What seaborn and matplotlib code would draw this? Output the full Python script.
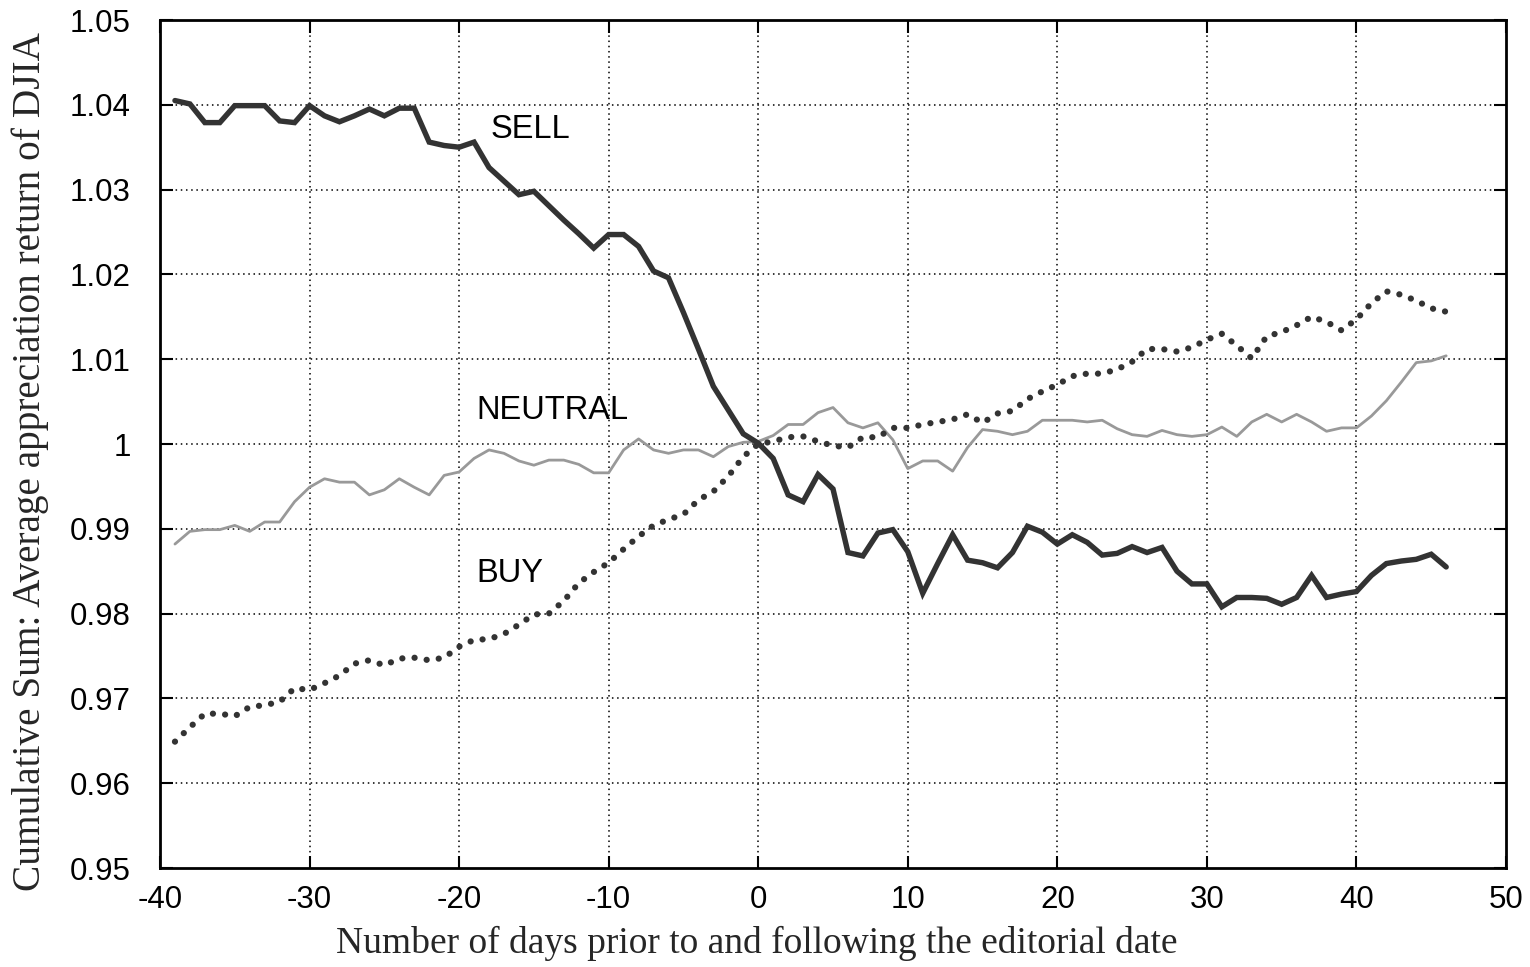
import numpy as np
import pandas as pd
import matplotlib
matplotlib.use("Agg")
import matplotlib.pyplot as plt
import seaborn as sns

# Event window: trading days relative to the editorial date
days = list(range(-39, 47))

sell = [
    1.0405, 1.0401, 1.0379, 1.0379, 1.0399, 1.0399, 1.0399, 1.0381, 1.0379, 1.0399,
    1.0387, 1.0380, 1.0387, 1.0395, 1.0387, 1.0396, 1.0396, 1.0356, 1.0352, 1.0350,
    1.0356, 1.0326, 1.0310, 1.0294, 1.0298, 1.0281, 1.0264, 1.0248, 1.0231, 1.0247,
    1.0247, 1.0233, 1.0204, 1.0196, 1.0155, 1.0112, 1.0068, 1.0040, 1.0012, 1.0001,
    0.9983, 0.9940, 0.9932, 0.9964, 0.9947, 0.9872, 0.9868, 0.9895, 0.9899, 0.9873,
    0.9824, 0.9859, 0.9893, 0.9863, 0.9860, 0.9854, 0.9872, 0.9903, 0.9896, 0.9882,
    0.9893, 0.9884, 0.9869, 0.9871, 0.9879, 0.9872, 0.9878, 0.9850, 0.9835, 0.9835,
    0.9808, 0.9819, 0.9819, 0.9818, 0.9811, 0.9819, 0.9845, 0.9819, 0.9823, 0.9826,
    0.9845, 0.9859, 0.9862, 0.9864, 0.9870, 0.9855,
]

neutral = [
    0.9882, 0.9897, 0.9899, 0.9899, 0.9904, 0.9897, 0.9908, 0.9908, 0.9932, 0.9949,
    0.9959, 0.9955, 0.9955, 0.9940, 0.9946, 0.9959, 0.9949, 0.9940, 0.9963, 0.9967,
    0.9983, 0.9993, 0.9989, 0.9980, 0.9975, 0.9981, 0.9981, 0.9976, 0.9966, 0.9966,
    0.9993, 1.0006, 0.9993, 0.9989, 0.9993, 0.9993, 0.9985, 0.9997, 1.0002, 1.0003,
    1.0010, 1.0023, 1.0023, 1.0037, 1.0043, 1.0025, 1.0019, 1.0025, 1.0005, 0.9971,
    0.9980, 0.9980, 0.9968, 0.9996, 1.0017, 1.0015, 1.0011, 1.0015, 1.0028, 1.0028,
    1.0028, 1.0026, 1.0028, 1.0018, 1.0011, 1.0009, 1.0016, 1.0011, 1.0009, 1.0011,
    1.0020, 1.0009, 1.0026, 1.0035, 1.0026, 1.0035, 1.0026, 1.0015, 1.0019, 1.0019,
    1.0033, 1.0051, 1.0073, 1.0096, 1.0098, 1.0104,
]

buy = [
    0.9649, 0.9666, 0.9682, 0.9682, 0.9679, 0.9690, 0.9692, 0.9696, 0.9712, 0.9710,
    0.9718, 0.9727, 0.9741, 0.9745, 0.9739, 0.9747, 0.9748, 0.9745, 0.9748, 0.9761,
    0.9769, 0.9770, 0.9776, 0.9787, 0.9799, 0.9800, 0.9815, 0.9836, 0.9849, 0.9860,
    0.9876, 0.9891, 0.9904, 0.9911, 0.9917, 0.9934, 0.9944, 0.9962, 0.9985, 1.0000,
    1.0003, 1.0008, 1.0009, 1.0003, 0.9998, 0.9996, 1.0008, 1.0008, 1.0019, 1.0019,
    1.0023, 1.0026, 1.0029, 1.0035, 1.0025, 1.0036, 1.0039, 1.0053, 1.0062, 1.0070,
    1.0080, 1.0083, 1.0083, 1.0088, 1.0097, 1.0112, 1.0112, 1.0109, 1.0114, 1.0123,
    1.0130, 1.0116, 1.0101, 1.0127, 1.0132, 1.0140, 1.0150, 1.0144, 1.0134, 1.0147,
    1.0166, 1.0180, 1.0176, 1.0169, 1.0160, 1.0156,
]

x_ticks = [-40, -30, -20, -10, 0, 10, 20, 30, 40, 50]
y_ticks = [0.95, 0.96, 0.97, 0.98, 0.99, 1.00, 1.01, 1.02, 1.03, 1.04, 1.05]
y_tick_labels = ["0.95", "0.96", "0.97", "0.98", "0.99", "1", "1.01", "1.02",
                 "1.03", "1.04", "1.05"]

x_label = "Number of days prior to and following the editorial date"
y_label = "Cumulative Sum: Average appreciation return of DJIA"

series_names = ["SELL", "NEUTRAL", "BUY"]
series_text_pos = [(-17.9, 1.0371), (-18.85, 1.00395), (-18.85, 0.98467)]

df = pd.DataFrame({"day": days, "SELL": sell, "NEUTRAL": neutral, "BUY": buy})
long_df = df.melt(id_vars="day", var_name="signal", value_name="cumret")

sns.set_theme(style="white")
plt.rcParams["font.family"] = ["Liberation Sans", "DejaVu Sans"]

fig = plt.figure(figsize=(15.30, 9.67), dpi=100)
ax = fig.add_axes([160 / 1530, 1 - 868 / 967, (1506 - 160) / 1530, (868 - 20) / 967])

# Grid first so the curves sit on top
ax.set_xlim(-40, 50)
ax.set_ylim(0.95, 1.05)
for xv in x_ticks[1:-1]:
    ax.axvline(xv, color="black", lw=1.1, ls=(0, (1, 2.4)), zorder=1)
for yv in y_ticks[1:-1]:
    ax.axhline(yv, color="black", lw=1.1, ls=(0, (1, 2.4)), zorder=1)

sns.lineplot(data=long_df[long_df.signal == "NEUTRAL"], x="day", y="cumret",
             ax=ax, color="#999999", lw=2.0, zorder=3, legend=False)
sns.lineplot(data=long_df[long_df.signal == "BUY"], x="day", y="cumret",
             ax=ax, color="#333333", lw=4.5, zorder=4, legend=False)
ax.lines[-1].set_linestyle((0, (0.01, 1.95)))
ax.lines[-1].set_dash_capstyle("round")
sns.lineplot(data=long_df[long_df.signal == "SELL"], x="day", y="cumret",
             ax=ax, color="#333333", lw=3.9, zorder=5, legend=False)
ax.lines[-1].set_solid_joinstyle("miter")

for name, (tx, ty) in zip(series_names, series_text_pos):
    ax.text(tx, ty, name, fontsize=23.5, color="black", ha="left", va="center",
            zorder=6)

ax.set_xticks(x_ticks)
ax.set_xticklabels([str(v) for v in x_ticks])
ax.set_yticks(y_ticks)
ax.set_yticklabels(y_tick_labels)
ax.tick_params(axis="both", which="major", direction="in", length=9, width=1.5,
               color="black", labelsize=22.5, labelcolor="black",
               top=True, right=True, bottom=True, left=True)
ax.tick_params(axis="x", pad=12)
ax.tick_params(axis="y", pad=21)
for sp in ax.spines.values():
    sp.set_visible(True)
    sp.set_color("black")
    sp.set_linewidth(2.0)
ax.set_xlabel("")
ax.set_ylabel("")
ax.grid(False)

fig.text(757 / 1530, 1 - 943 / 967, x_label, family="Liberation Serif",
         fontsize=27, ha="center", va="center")
fig.text(30 / 1530, 1 - 462 / 967, y_label, family="Liberation Serif",
         fontsize=28.3, ha="center", va="center", rotation=90)

fig.savefig("out.png", dpi=100, facecolor="white")
